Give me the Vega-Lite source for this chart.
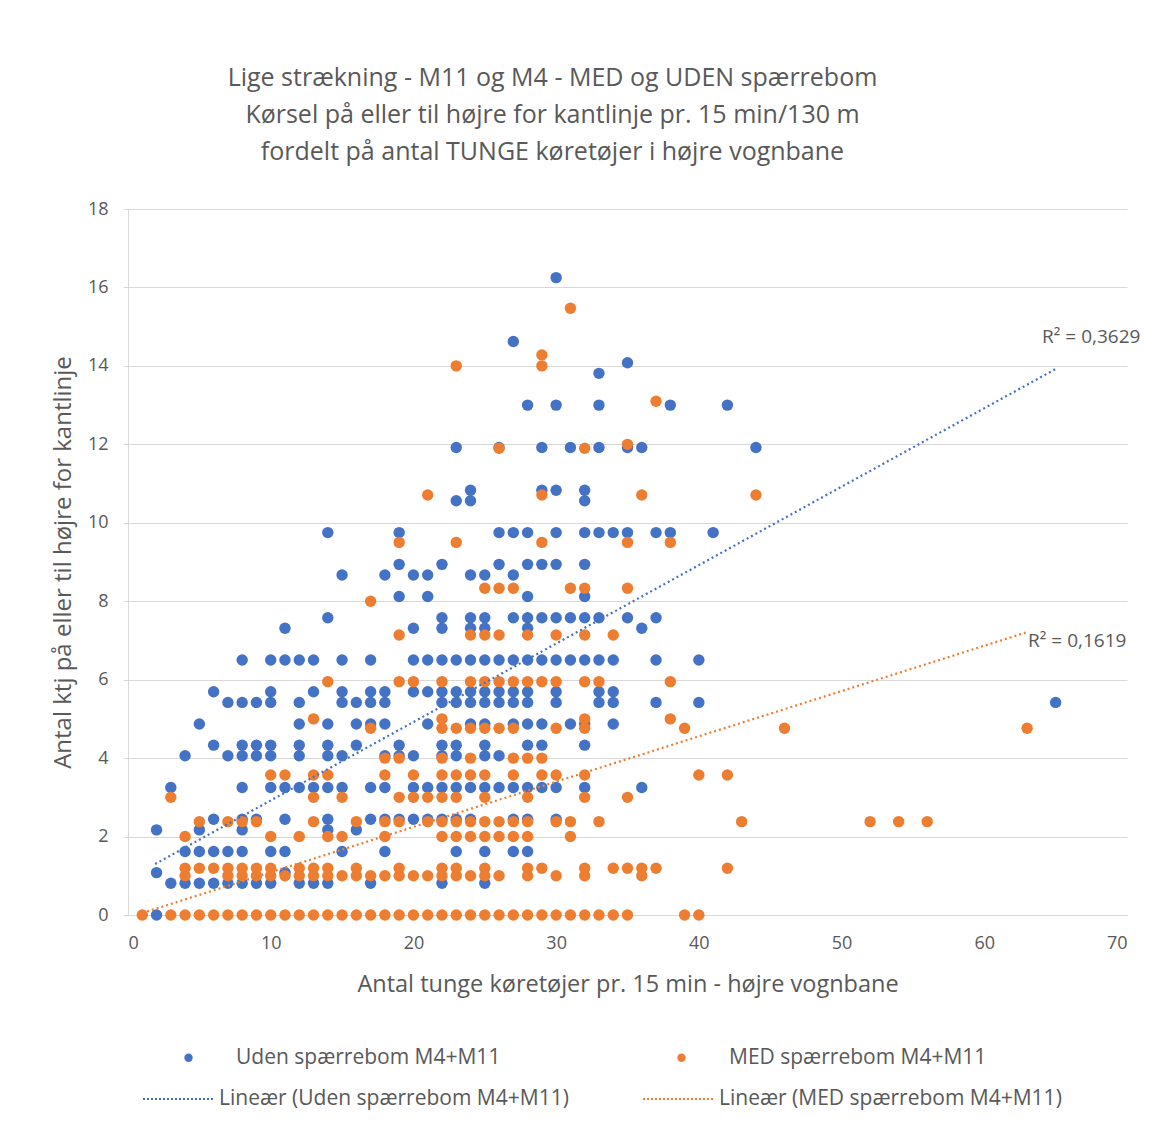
{
"$schema":"https://vega.github.io/schema/vega-lite/v6.json",
"autosize":"none",
"width":999,"height":706,
"padding":{"left":128,"top":209,"right":35,"bottom":227},
"background":"white",
"config":{"font":"Open Sans","view":{"stroke":null}},
"title":{"text":["Lige strækning - M11 og M4 - MED og UDEN spærrebom","Kørsel på eller til højre for kantlinje pr. 15 min/130  m","fordelt på antal TUNGE køretøjer i højre vognbane"],"fontSize":25,"font":"Open Sans","color":"#595959","fontWeight":"normal","lineHeight":37,"anchor":"middle","dx":-75,"offset":35},
"datasets":{
"pts":[
{"x":2,"y":0,"g":"U"},{"x":2,"y":1.08,"g":"U"},{"x":2,"y":2.17,"g":"U"},
{"x":3,"y":0.81,"g":"U"},{"x":3,"y":3.25,"g":"U"},
{"x":4,"y":0.81,"g":"U"},{"x":4,"y":1.62,"g":"U"},{"x":4,"y":4.06,"g":"U"},
{"x":5,"y":0.81,"g":"U"},{"x":5,"y":1.62,"g":"U"},{"x":5,"y":2.17,"g":"U"},{"x":5,"y":4.87,"g":"U"},
{"x":6,"y":0.81,"g":"U"},{"x":6,"y":1.62,"g":"U"},{"x":6,"y":2.44,"g":"U"},{"x":6,"y":4.33,"g":"U"},{"x":6,"y":5.69,"g":"U"},
{"x":7,"y":0.81,"g":"U"},{"x":7,"y":1.62,"g":"U"},{"x":7,"y":4.06,"g":"U"},{"x":7,"y":5.42,"g":"U"},
{"x":8,"y":0.81,"g":"U"},{"x":8,"y":1.62,"g":"U"},{"x":8,"y":2.17,"g":"U"},{"x":8,"y":2.44,"g":"U"},{"x":8,"y":3.25,"g":"U"},{"x":8,"y":4.06,"g":"U"},{"x":8,"y":4.33,"g":"U"},{"x":8,"y":5.42,"g":"U"},{"x":8,"y":6.5,"g":"U"},
{"x":9,"y":0.81,"g":"U"},{"x":9,"y":2.44,"g":"U"},{"x":9,"y":4.06,"g":"U"},{"x":9,"y":4.33,"g":"U"},{"x":9,"y":5.42,"g":"U"},
{"x":10,"y":0.81,"g":"U"},{"x":10,"y":1.62,"g":"U"},{"x":10,"y":3.25,"g":"U"},{"x":10,"y":4.06,"g":"U"},{"x":10,"y":4.33,"g":"U"},{"x":10,"y":5.42,"g":"U"},{"x":10,"y":5.69,"g":"U"},{"x":10,"y":6.5,"g":"U"},
{"x":11,"y":1.08,"g":"U"},{"x":11,"y":1.62,"g":"U"},{"x":11,"y":2.44,"g":"U"},{"x":11,"y":3.25,"g":"U"},{"x":11,"y":6.5,"g":"U"},{"x":11,"y":7.31,"g":"U"},
{"x":12,"y":0.81,"g":"U"},{"x":12,"y":3.25,"g":"U"},{"x":12,"y":4.06,"g":"U"},{"x":12,"y":4.33,"g":"U"},{"x":12,"y":4.87,"g":"U"},{"x":12,"y":5.42,"g":"U"},{"x":12,"y":6.5,"g":"U"},
{"x":13,"y":0.81,"g":"U"},{"x":13,"y":3.25,"g":"U"},{"x":13,"y":5.69,"g":"U"},{"x":13,"y":6.5,"g":"U"},
{"x":14,"y":0.81,"g":"U"},{"x":14,"y":2.17,"g":"U"},{"x":14,"y":2.44,"g":"U"},{"x":14,"y":3.25,"g":"U"},{"x":14,"y":4.06,"g":"U"},{"x":14,"y":4.33,"g":"U"},{"x":14,"y":4.87,"g":"U"},{"x":14,"y":7.58,"g":"U"},{"x":14,"y":9.75,"g":"U"},
{"x":15,"y":1.62,"g":"U"},{"x":15,"y":3.25,"g":"U"},{"x":15,"y":4.06,"g":"U"},{"x":15,"y":5.42,"g":"U"},{"x":15,"y":5.69,"g":"U"},{"x":15,"y":6.5,"g":"U"},{"x":15,"y":8.67,"g":"U"},
{"x":16,"y":2.17,"g":"U"},{"x":16,"y":4.33,"g":"U"},{"x":16,"y":4.87,"g":"U"},{"x":16,"y":5.42,"g":"U"},
{"x":17,"y":0.81,"g":"U"},{"x":17,"y":2.44,"g":"U"},{"x":17,"y":3.25,"g":"U"},{"x":17,"y":4.87,"g":"U"},{"x":17,"y":5.42,"g":"U"},{"x":17,"y":5.69,"g":"U"},{"x":17,"y":6.5,"g":"U"},
{"x":18,"y":1.62,"g":"U"},{"x":18,"y":2.44,"g":"U"},{"x":18,"y":3.25,"g":"U"},{"x":18,"y":4.06,"g":"U"},{"x":18,"y":4.87,"g":"U"},{"x":18,"y":5.42,"g":"U"},{"x":18,"y":5.69,"g":"U"},{"x":18,"y":8.67,"g":"U"},
{"x":19,"y":2.44,"g":"U"},{"x":19,"y":4.06,"g":"U"},{"x":19,"y":4.33,"g":"U"},{"x":19,"y":8.12,"g":"U"},{"x":19,"y":8.94,"g":"U"},{"x":19,"y":9.75,"g":"U"},
{"x":20,"y":2.44,"g":"U"},{"x":20,"y":3.25,"g":"U"},{"x":20,"y":4.06,"g":"U"},{"x":20,"y":5.69,"g":"U"},{"x":20,"y":6.5,"g":"U"},{"x":20,"y":7.31,"g":"U"},{"x":20,"y":8.67,"g":"U"},
{"x":21,"y":2.44,"g":"U"},{"x":21,"y":3.25,"g":"U"},{"x":21,"y":4.87,"g":"U"},{"x":21,"y":5.69,"g":"U"},{"x":21,"y":6.5,"g":"U"},{"x":21,"y":8.12,"g":"U"},{"x":21,"y":8.67,"g":"U"},
{"x":22,"y":0.81,"g":"U"},{"x":22,"y":2.44,"g":"U"},{"x":22,"y":3.25,"g":"U"},{"x":22,"y":4.06,"g":"U"},{"x":22,"y":4.33,"g":"U"},{"x":22,"y":5.42,"g":"U"},{"x":22,"y":5.69,"g":"U"},{"x":22,"y":6.5,"g":"U"},{"x":22,"y":7.31,"g":"U"},{"x":22,"y":7.58,"g":"U"},{"x":22,"y":8.94,"g":"U"},
{"x":23,"y":1.62,"g":"U"},{"x":23,"y":2.44,"g":"U"},{"x":23,"y":3.25,"g":"U"},{"x":23,"y":4.06,"g":"U"},{"x":23,"y":4.33,"g":"U"},{"x":23,"y":5.42,"g":"U"},{"x":23,"y":5.69,"g":"U"},{"x":23,"y":6.5,"g":"U"},{"x":23,"y":10.56,"g":"U"},{"x":23,"y":11.92,"g":"U"},
{"x":24,"y":2.44,"g":"U"},{"x":24,"y":3.25,"g":"U"},{"x":24,"y":4.87,"g":"U"},{"x":24,"y":5.42,"g":"U"},{"x":24,"y":5.69,"g":"U"},{"x":24,"y":6.5,"g":"U"},{"x":24,"y":7.31,"g":"U"},{"x":24,"y":7.58,"g":"U"},{"x":24,"y":8.67,"g":"U"},{"x":24,"y":10.56,"g":"U"},{"x":24,"y":10.83,"g":"U"},
{"x":25,"y":0.81,"g":"U"},{"x":25,"y":1.62,"g":"U"},{"x":25,"y":3.25,"g":"U"},{"x":25,"y":4.06,"g":"U"},{"x":25,"y":4.33,"g":"U"},{"x":25,"y":4.87,"g":"U"},{"x":25,"y":5.42,"g":"U"},{"x":25,"y":5.69,"g":"U"},{"x":25,"y":6.5,"g":"U"},{"x":25,"y":7.31,"g":"U"},{"x":25,"y":7.58,"g":"U"},{"x":25,"y":8.67,"g":"U"},
{"x":26,"y":3.25,"g":"U"},{"x":26,"y":4.06,"g":"U"},{"x":26,"y":5.42,"g":"U"},{"x":26,"y":5.69,"g":"U"},{"x":26,"y":6.5,"g":"U"},{"x":26,"y":8.94,"g":"U"},{"x":26,"y":9.75,"g":"U"},{"x":26,"y":11.92,"g":"U"},
{"x":27,"y":1.62,"g":"U"},{"x":27,"y":2.44,"g":"U"},{"x":27,"y":3.25,"g":"U"},{"x":27,"y":4.87,"g":"U"},{"x":27,"y":5.42,"g":"U"},{"x":27,"y":5.69,"g":"U"},{"x":27,"y":6.5,"g":"U"},{"x":27,"y":7.58,"g":"U"},{"x":27,"y":8.67,"g":"U"},{"x":27,"y":9.75,"g":"U"},{"x":27,"y":14.62,"g":"U"},
{"x":28,"y":1.62,"g":"U"},{"x":28,"y":2.44,"g":"U"},{"x":28,"y":3.25,"g":"U"},{"x":28,"y":4.33,"g":"U"},{"x":28,"y":4.87,"g":"U"},{"x":28,"y":5.42,"g":"U"},{"x":28,"y":5.69,"g":"U"},{"x":28,"y":6.5,"g":"U"},{"x":28,"y":7.31,"g":"U"},{"x":28,"y":7.58,"g":"U"},{"x":28,"y":8.12,"g":"U"},{"x":28,"y":8.94,"g":"U"},{"x":28,"y":9.75,"g":"U"},{"x":28,"y":13.0,"g":"U"},
{"x":29,"y":3.25,"g":"U"},{"x":29,"y":4.33,"g":"U"},{"x":29,"y":4.87,"g":"U"},{"x":29,"y":6.5,"g":"U"},{"x":29,"y":7.58,"g":"U"},{"x":29,"y":8.94,"g":"U"},{"x":29,"y":10.83,"g":"U"},{"x":29,"y":11.92,"g":"U"},
{"x":30,"y":2.44,"g":"U"},{"x":30,"y":3.25,"g":"U"},{"x":30,"y":5.42,"g":"U"},{"x":30,"y":5.69,"g":"U"},{"x":30,"y":6.5,"g":"U"},{"x":30,"y":7.58,"g":"U"},{"x":30,"y":8.94,"g":"U"},{"x":30,"y":9.75,"g":"U"},{"x":30,"y":10.83,"g":"U"},{"x":30,"y":13.0,"g":"U"},{"x":30,"y":16.25,"g":"U"},
{"x":31,"y":4.87,"g":"U"},{"x":31,"y":6.5,"g":"U"},{"x":31,"y":7.58,"g":"U"},{"x":31,"y":11.92,"g":"U"},
{"x":32,"y":3.25,"g":"U"},{"x":32,"y":4.33,"g":"U"},{"x":32,"y":4.87,"g":"U"},{"x":32,"y":6.5,"g":"U"},{"x":32,"y":7.58,"g":"U"},{"x":32,"y":8.12,"g":"U"},{"x":32,"y":8.94,"g":"U"},{"x":32,"y":9.75,"g":"U"},{"x":32,"y":10.56,"g":"U"},{"x":32,"y":10.83,"g":"U"},
{"x":33,"y":5.42,"g":"U"},{"x":33,"y":5.69,"g":"U"},{"x":33,"y":6.5,"g":"U"},{"x":33,"y":7.58,"g":"U"},{"x":33,"y":9.75,"g":"U"},{"x":33,"y":11.92,"g":"U"},{"x":33,"y":13.0,"g":"U"},{"x":33,"y":13.81,"g":"U"},
{"x":34,"y":4.87,"g":"U"},{"x":34,"y":5.42,"g":"U"},{"x":34,"y":5.69,"g":"U"},{"x":34,"y":6.5,"g":"U"},{"x":34,"y":9.75,"g":"U"},
{"x":35,"y":7.58,"g":"U"},{"x":35,"y":9.75,"g":"U"},{"x":35,"y":11.92,"g":"U"},{"x":35,"y":14.08,"g":"U"},
{"x":36,"y":3.25,"g":"U"},{"x":36,"y":7.31,"g":"U"},{"x":36,"y":11.92,"g":"U"},
{"x":37,"y":5.42,"g":"U"},{"x":37,"y":6.5,"g":"U"},{"x":37,"y":7.58,"g":"U"},{"x":37,"y":9.75,"g":"U"},
{"x":38,"y":9.75,"g":"U"},{"x":38,"y":13.0,"g":"U"},
{"x":40,"y":5.42,"g":"U"},{"x":40,"y":6.5,"g":"U"},
{"x":41,"y":9.75,"g":"U"},{"x":42,"y":13.0,"g":"U"},{"x":44,"y":11.92,"g":"U"},{"x":65,"y":5.42,"g":"U"},
{"x":1,"y":0,"g":"M"},
{"x":3,"y":0,"g":"M"},{"x":3,"y":3.0,"g":"M"},
{"x":4,"y":0,"g":"M"},{"x":4,"y":1.0,"g":"M"},{"x":4,"y":1.19,"g":"M"},{"x":4,"y":2.0,"g":"M"},
{"x":5,"y":0,"g":"M"},{"x":5,"y":1.19,"g":"M"},{"x":5,"y":2.38,"g":"M"},
{"x":6,"y":0,"g":"M"},{"x":6,"y":1.19,"g":"M"},
{"x":7,"y":0,"g":"M"},{"x":7,"y":1.0,"g":"M"},{"x":7,"y":1.19,"g":"M"},{"x":7,"y":2.38,"g":"M"},
{"x":8,"y":0,"g":"M"},{"x":8,"y":1.0,"g":"M"},{"x":8,"y":1.19,"g":"M"},{"x":8,"y":2.38,"g":"M"},
{"x":9,"y":0,"g":"M"},{"x":9,"y":1.0,"g":"M"},{"x":9,"y":1.19,"g":"M"},{"x":9,"y":2.38,"g":"M"},
{"x":10,"y":0,"g":"M"},{"x":10,"y":1.0,"g":"M"},{"x":10,"y":1.19,"g":"M"},{"x":10,"y":2.0,"g":"M"},{"x":10,"y":3.57,"g":"M"},
{"x":11,"y":0,"g":"M"},{"x":11,"y":1.0,"g":"M"},{"x":11,"y":3.57,"g":"M"},
{"x":12,"y":0,"g":"M"},{"x":12,"y":1.0,"g":"M"},{"x":12,"y":1.19,"g":"M"},{"x":12,"y":2.0,"g":"M"},
{"x":13,"y":0,"g":"M"},{"x":13,"y":1.0,"g":"M"},{"x":13,"y":1.19,"g":"M"},{"x":13,"y":2.38,"g":"M"},{"x":13,"y":3.0,"g":"M"},{"x":13,"y":3.57,"g":"M"},{"x":13,"y":5.0,"g":"M"},
{"x":14,"y":0,"g":"M"},{"x":14,"y":1.0,"g":"M"},{"x":14,"y":1.19,"g":"M"},{"x":14,"y":2.0,"g":"M"},{"x":14,"y":3.57,"g":"M"},{"x":14,"y":5.95,"g":"M"},
{"x":15,"y":0,"g":"M"},{"x":15,"y":1.0,"g":"M"},{"x":15,"y":2.0,"g":"M"},{"x":15,"y":3.0,"g":"M"},
{"x":16,"y":0,"g":"M"},{"x":16,"y":1.0,"g":"M"},{"x":16,"y":1.19,"g":"M"},{"x":16,"y":2.38,"g":"M"},
{"x":17,"y":0,"g":"M"},{"x":17,"y":1.0,"g":"M"},{"x":17,"y":4.76,"g":"M"},{"x":17,"y":8.0,"g":"M"},
{"x":18,"y":0,"g":"M"},{"x":18,"y":1.0,"g":"M"},{"x":18,"y":2.0,"g":"M"},{"x":18,"y":2.38,"g":"M"},{"x":18,"y":3.57,"g":"M"},{"x":18,"y":4.0,"g":"M"},
{"x":19,"y":0,"g":"M"},{"x":19,"y":1.0,"g":"M"},{"x":19,"y":1.19,"g":"M"},{"x":19,"y":2.38,"g":"M"},{"x":19,"y":3.0,"g":"M"},{"x":19,"y":4.0,"g":"M"},{"x":19,"y":5.95,"g":"M"},{"x":19,"y":7.14,"g":"M"},{"x":19,"y":9.5,"g":"M"},
{"x":20,"y":0,"g":"M"},{"x":20,"y":1.0,"g":"M"},{"x":20,"y":3.0,"g":"M"},{"x":20,"y":3.57,"g":"M"},{"x":20,"y":5.95,"g":"M"},
{"x":21,"y":0,"g":"M"},{"x":21,"y":1.0,"g":"M"},{"x":21,"y":2.38,"g":"M"},{"x":21,"y":3.0,"g":"M"},{"x":21,"y":10.71,"g":"M"},
{"x":22,"y":0,"g":"M"},{"x":22,"y":1.0,"g":"M"},{"x":22,"y":1.19,"g":"M"},{"x":22,"y":2.0,"g":"M"},{"x":22,"y":2.38,"g":"M"},{"x":22,"y":3.0,"g":"M"},{"x":22,"y":3.57,"g":"M"},{"x":22,"y":4.0,"g":"M"},{"x":22,"y":4.76,"g":"M"},{"x":22,"y":5.0,"g":"M"},{"x":22,"y":5.95,"g":"M"},
{"x":23,"y":0,"g":"M"},{"x":23,"y":1.0,"g":"M"},{"x":23,"y":1.19,"g":"M"},{"x":23,"y":2.0,"g":"M"},{"x":23,"y":2.38,"g":"M"},{"x":23,"y":3.0,"g":"M"},{"x":23,"y":3.57,"g":"M"},{"x":23,"y":4.76,"g":"M"},{"x":23,"y":9.5,"g":"M"},{"x":23,"y":14.0,"g":"M"},
{"x":24,"y":0,"g":"M"},{"x":24,"y":1.0,"g":"M"},{"x":24,"y":2.0,"g":"M"},{"x":24,"y":2.38,"g":"M"},{"x":24,"y":3.57,"g":"M"},{"x":24,"y":4.0,"g":"M"},{"x":24,"y":4.76,"g":"M"},{"x":24,"y":5.95,"g":"M"},{"x":24,"y":7.14,"g":"M"},
{"x":25,"y":0,"g":"M"},{"x":25,"y":1.0,"g":"M"},{"x":25,"y":1.19,"g":"M"},{"x":25,"y":2.0,"g":"M"},{"x":25,"y":2.38,"g":"M"},{"x":25,"y":3.0,"g":"M"},{"x":25,"y":3.57,"g":"M"},{"x":25,"y":4.76,"g":"M"},{"x":25,"y":5.95,"g":"M"},{"x":25,"y":7.14,"g":"M"},{"x":25,"y":8.33,"g":"M"},
{"x":26,"y":0,"g":"M"},{"x":26,"y":1.0,"g":"M"},{"x":26,"y":2.0,"g":"M"},{"x":26,"y":2.38,"g":"M"},{"x":26,"y":4.76,"g":"M"},{"x":26,"y":5.95,"g":"M"},{"x":26,"y":7.14,"g":"M"},{"x":26,"y":8.33,"g":"M"},{"x":26,"y":11.9,"g":"M"},
{"x":27,"y":0,"g":"M"},{"x":27,"y":2.0,"g":"M"},{"x":27,"y":2.38,"g":"M"},{"x":27,"y":3.57,"g":"M"},{"x":27,"y":4.0,"g":"M"},{"x":27,"y":4.76,"g":"M"},{"x":27,"y":5.95,"g":"M"},{"x":27,"y":8.33,"g":"M"},
{"x":28,"y":0,"g":"M"},{"x":28,"y":1.0,"g":"M"},{"x":28,"y":1.19,"g":"M"},{"x":28,"y":2.0,"g":"M"},{"x":28,"y":2.38,"g":"M"},{"x":28,"y":3.0,"g":"M"},{"x":28,"y":4.0,"g":"M"},{"x":28,"y":5.95,"g":"M"},{"x":28,"y":7.14,"g":"M"},
{"x":29,"y":0,"g":"M"},{"x":29,"y":1.19,"g":"M"},{"x":29,"y":3.57,"g":"M"},{"x":29,"y":4.0,"g":"M"},{"x":29,"y":5.95,"g":"M"},{"x":29,"y":9.5,"g":"M"},{"x":29,"y":10.71,"g":"M"},{"x":29,"y":14.0,"g":"M"},{"x":29,"y":14.28,"g":"M"},
{"x":30,"y":0,"g":"M"},{"x":30,"y":1.0,"g":"M"},{"x":30,"y":2.38,"g":"M"},{"x":30,"y":3.57,"g":"M"},{"x":30,"y":4.76,"g":"M"},{"x":30,"y":5.95,"g":"M"},{"x":30,"y":7.14,"g":"M"},
{"x":31,"y":0,"g":"M"},{"x":31,"y":2.0,"g":"M"},{"x":31,"y":2.38,"g":"M"},{"x":31,"y":8.33,"g":"M"},{"x":31,"y":15.47,"g":"M"},
{"x":32,"y":0,"g":"M"},{"x":32,"y":1.0,"g":"M"},{"x":32,"y":1.19,"g":"M"},{"x":32,"y":3.0,"g":"M"},{"x":32,"y":3.57,"g":"M"},{"x":32,"y":4.76,"g":"M"},{"x":32,"y":5.0,"g":"M"},{"x":32,"y":5.95,"g":"M"},{"x":32,"y":7.14,"g":"M"},{"x":32,"y":8.33,"g":"M"},{"x":32,"y":11.9,"g":"M"},
{"x":33,"y":0,"g":"M"},{"x":33,"y":2.38,"g":"M"},{"x":33,"y":5.95,"g":"M"},
{"x":34,"y":0,"g":"M"},{"x":34,"y":1.19,"g":"M"},{"x":34,"y":7.14,"g":"M"},
{"x":35,"y":0,"g":"M"},{"x":35,"y":1.19,"g":"M"},{"x":35,"y":3.0,"g":"M"},{"x":35,"y":8.33,"g":"M"},{"x":35,"y":9.5,"g":"M"},{"x":35,"y":12.0,"g":"M"},
{"x":36,"y":1.0,"g":"M"},{"x":36,"y":1.19,"g":"M"},{"x":36,"y":10.71,"g":"M"},
{"x":37,"y":1.19,"g":"M"},{"x":37,"y":13.1,"g":"M"},
{"x":38,"y":5.0,"g":"M"},{"x":38,"y":5.95,"g":"M"},{"x":38,"y":9.5,"g":"M"},
{"x":39,"y":0,"g":"M"},{"x":39,"y":4.76,"g":"M"},
{"x":40,"y":0,"g":"M"},{"x":40,"y":3.57,"g":"M"},
{"x":42,"y":1.19,"g":"M"},{"x":42,"y":3.57,"g":"M"},
{"x":43,"y":2.38,"g":"M"},{"x":44,"y":10.71,"g":"M"},{"x":46,"y":4.76,"g":"M"},
{"x":52,"y":2.38,"g":"M"},{"x":54,"y":2.38,"g":"M"},{"x":56,"y":2.38,"g":"M"},{"x":63,"y":4.76,"g":"M"}
],
"trend":[
{"t":"LU","x":1.9,"y":1.3},{"t":"LU","x":65,"y":13.92},
{"t":"LM","x":1,"y":0.05},{"t":"LM","x":62.9,"y":7.2}
],
"r2":[
{"x":64.05,"y":14.74,"label":"R² = 0,3629"},
{"x":63.07,"y":6.99,"label":"R² = 0,1619"}
]},
"layer":[
{"data":{"name":"pts"},
 "mark":{"type":"circle","size":130,"opacity":1},
 "encoding":{
  "x":{"field":"x","type":"quantitative","scale":{"domain":[0,70],"nice":false,"zero":true},
   "axis":{"values":[0,10,20,30,40,50,60,70],"grid":false,"ticks":false,"domainColor":"#d9d9d9","domainWidth":1,"labelColor":"#595959","labelFontSize":18,"labelFont":"Open Sans","labelPadding":19,"title":"Antal tunge køretøjer pr. 15 min - højre vognbane","titleFont":"Open Sans","titleFontSize":23.5,"titleFontWeight":"normal","titleColor":"#595959","titlePadding":20}},
  "y":{"field":"y","type":"quantitative","scale":{"domain":[0,18],"nice":false},
   "axis":{"values":[0,2,4,6,8,10,12,14,16,18],"grid":true,"gridColor":"#d9d9d9","gridWidth":1,"ticks":true,"tickSize":5,"tickColor":"#d9d9d9","domainColor":"#d9d9d9","labelColor":"#595959","labelFontSize":18,"labelFont":"Open Sans","labelPadding":15,"title":"Antal ktj på eller til højre for kantlinje","titleFont":"Open Sans","titleFontSize":24,"titleFontWeight":"normal","titleColor":"#595959","titlePadding":12}},
  "color":{"field":"g","type":"nominal","scale":{"domain":["U","M"],"range":["#4472C4","#ED7D31"]},
   "legend":{"title":null,"orient":"none","legendX":50,"legendY":838,"direction":"horizontal","columns":2,"columnPadding":170,"symbolType":"circle","symbolSize":70,"symbolOpacity":1,"labelFont":"Open Sans","labelFontSize":21,"labelColor":"#595959","labelOffset":37,"labelLimit":0,"padding":0,
    "labelExpr":"datum.label == 'U' ? 'Uden spærrebom M4+M11' : 'MED spærrebom M4+M11'"}}
 }},
{"data":{"name":"trend"},
 "mark":{"type":"line","strokeDash":[2,3],"strokeWidth":2.2},
 "encoding":{
  "x":{"field":"x","type":"quantitative"},
  "y":{"field":"y","type":"quantitative"},
  "color":{"field":"t","type":"nominal","scale":{"domain":["LU","LM"],"range":["#4472C4","#ED7D31"]},
   "legend":{"title":null,"orient":"none","legendX":14,"legendY":854,"direction":"horizontal","columns":2,"columnPadding":70,"symbolType":"stroke","symbolSize":4900,"symbolDash":[2,2],"symbolStrokeWidth":2,"labelFont":"Open Sans","labelFontSize":21,"labelColor":"#595959","labelOffset":5,"labelLimit":0,"padding":0,
    "labelExpr":"datum.label == 'LU' ? 'Lineær (Uden spærrebom M4+M11)' : 'Lineær (MED spærrebom M4+M11)'"}}
 }},
{"data":{"name":"r2"},
 "mark":{"type":"text","align":"left","baseline":"middle","font":"Open Sans","fontSize":19,"color":"#595959"},
 "encoding":{
  "x":{"field":"x","type":"quantitative"},
  "y":{"field":"y","type":"quantitative"},
  "text":{"field":"label"}
 }}
],
"resolve":{"scale":{"color":"independent"},"legend":{"color":"independent"}}
}
